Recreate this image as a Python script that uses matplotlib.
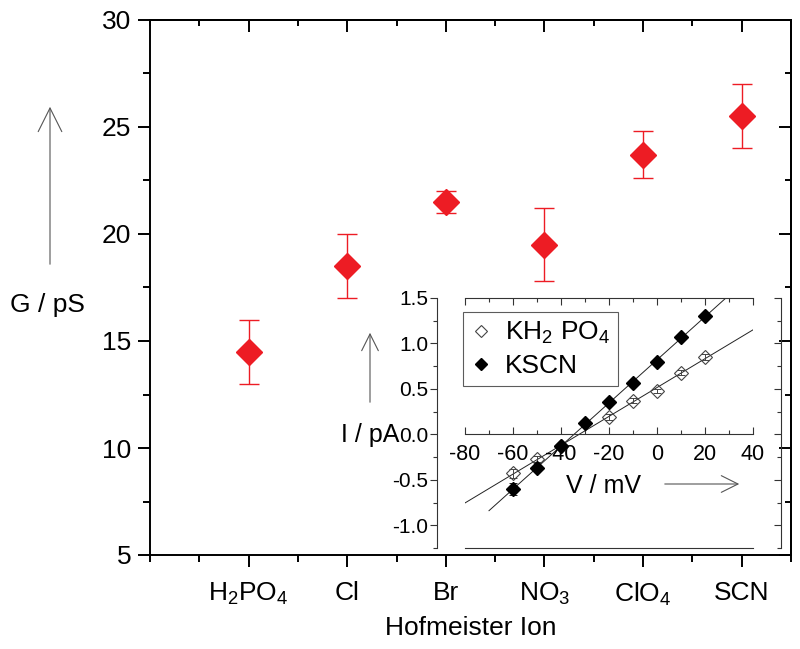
import numpy as np
import matplotlib
matplotlib.use('Agg')
import matplotlib.pyplot as plt
from matplotlib.patches import FancyArrowPatch
from matplotlib.ticker import MultipleLocator, FixedLocator

plt.rcParams['font.family'] = ['Liberation Sans', 'DejaVu Sans']
plt.rcParams['mathtext.fontset'] = 'custom'
plt.rcParams['mathtext.rm'] = 'Liberation Sans'
plt.rcParams['mathtext.it'] = 'Liberation Sans:italic'
plt.rcParams['axes.unicode_minus'] = False

# main panel: single channel conductance per anion
ions = ['H$_2$PO$_4$', 'Cl', 'Br', 'NO$_3$', 'ClO$_4$', 'SCN']
conductance = [14.5, 18.5, 21.5, 19.5, 23.7, 25.5]
conductance_err = [1.5, 1.5, 0.5, 1.7, 1.1, 1.5]

# inset: I-V curves
v_kh2po4 = [-60, -50, -40, -20, -10, 0, 10, 20]
i_kh2po4 = [-0.43, -0.27, -0.13, 0.19, 0.37, 0.48, 0.68, 0.85]
err_kh2po4 = [0.05, 0.03, 0.03, 0.03, 0.03, 0.02, 0.03, 0.03]
v_kscn = [-60, -50, -40, -30, -20, -10, 0, 10, 20]
i_kscn = [-0.60, -0.37, -0.13, 0.12, 0.36, 0.56, 0.80, 1.07, 1.30]
err_kscn = [0.07, 0.03, 0.03, 0.02, 0.02, 0.02, 0.02, 0.02, 0.02]

red = '#ed1c24'
W, H = 800, 649


def fx(px):
    return px / W


def fy(py):
    return 1 - py / H


fig = plt.figure(figsize=(8, 6.49), dpi=100)
ax = fig.add_axes([fx(150), fy(555), (791 - 150) / W, (555 - 20) / H])

x = np.arange(1, len(ions) + 1)
ax.errorbar(x, conductance, yerr=conductance_err, fmt='D', color=red, ms=13,
            capsize=7, elinewidth=1, capthick=1)

ax.set_xlim(0, 6.5)
ax.set_ylim(5, 30)
ax.set_xticks(x)
ax.set_xticklabels(ions)
ax.xaxis.set_minor_locator(MultipleLocator(0.5))
ax.yaxis.set_major_locator(MultipleLocator(5))
ax.yaxis.set_minor_locator(MultipleLocator(2.5))
ax.tick_params(which='both', direction='out', top=False, right=False, width=1.4, labelsize=19)
ax.tick_params(which='major', length=8.5)
ax.tick_params(which='minor', length=5)
ax.tick_params(axis='x', pad=10)
ax.tick_params(axis='y', pad=5)
for s in ax.spines.values():
    s.set_linewidth(1.4)
ax.set_xlabel('Hofmeister Ion', fontsize=19, labelpad=6)

top = ax.secondary_xaxis('top')
top.xaxis.set_major_locator(FixedLocator(x))
top.xaxis.set_minor_locator(MultipleLocator(0.5))
top.tick_params(which='both', direction='in', labeltop=False, width=1.4)
top.tick_params(which='major', length=8.5)
top.tick_params(which='minor', length=4)
top.spines['top'].set_linewidth(1.4)

right = ax.secondary_yaxis('right')
right.yaxis.set_major_locator(MultipleLocator(5))
right.yaxis.set_minor_locator(MultipleLocator(2.5))
right.tick_params(which='both', direction='in', labelright=False, width=1.4)
right.tick_params(which='major', length=8.5)
right.tick_params(which='minor', length=4)
right.spines['right'].set_linewidth(1.4)

fig.text(fx(47), fy(305), 'G / pS', ha='center', va='center', fontsize=19)
fig.add_artist(FancyArrowPatch((fx(50), fy(267)), (fx(50), fy(104)), transform=fig.transFigure,
                               arrowstyle='->,head_length=1.7,head_width=0.85',
                               mutation_scale=10, color='#555555', lw=0.8))

# inset
ins = fig.add_axes([fx(465), fy(548), 288 / W, 250 / H])
ins.set_xlim(-80, 40)
ins.set_ylim(-1.25, 1.5)

p1 = np.polyfit(v_kh2po4, i_kh2po4, 1)
p2 = np.polyfit(v_kscn, i_kscn, 1)
vv1 = np.array([-80, 40])
vv2 = np.array([-70, 40])
ins.plot(vv1, np.polyval(p1, vv1), color='#222222', lw=0.7, zorder=1)
ins.plot(vv2, np.polyval(p2, vv2), color='#222222', lw=0.7, zorder=1)

ins.errorbar(v_kh2po4, i_kh2po4, yerr=err_kh2po4, fmt='none', ecolor='#444444',
             elinewidth=0.7, capsize=3, capthick=0.7, zorder=2)
ins.errorbar(v_kscn, i_kscn, yerr=err_kscn, fmt='none', ecolor='#222222',
             elinewidth=0.7, capsize=3, capthick=0.7, zorder=2)
h1, = ins.plot(v_kh2po4, i_kh2po4, 'D', ms=7, mfc='none', mec='#444444', mew=0.8,
               label='KH$_2$ PO$_4$', zorder=3)
h2, = ins.plot(v_kscn, i_kscn, 'D', ms=7, color='black', label='KSCN', zorder=3)

leg = ins.legend(handles=[h1, h2], loc='upper left', bbox_to_anchor=(-0.007, 0.944),
                 borderaxespad=0, fontsize=19, fancybox=False, edgecolor='#333333',
                 handlelength=0.8, handletextpad=0.5, borderpad=0.3, labelspacing=0.3,
                 markerscale=0.85)
leg.get_frame().set_linewidth(0.8)

ins.spines['bottom'].set_position(('data', 0))
ins.spines['left'].set_position(('outward', 20))
ins.spines['right'].set_visible(False)
for s in ins.spines.values():
    s.set_linewidth(0.8)
    s.set_color('#333333')
ins.axhline(-1.25, color='#333333', lw=0.8, clip_on=False)

ins.xaxis.set_major_locator(MultipleLocator(20))
ins.xaxis.set_minor_locator(MultipleLocator(10))
ins.yaxis.set_major_locator(MultipleLocator(0.5))
ins.yaxis.set_minor_locator(MultipleLocator(0.25))
ins.xaxis.set_ticks_position('both')
ins.tick_params(axis='x', which='both', direction='in', labelsize=15.5, pad=7,
                color='#333333', width=0.8)
ins.tick_params(axis='x', which='major', length=5)
ins.tick_params(axis='x', which='minor', length=3)
ins.yaxis.set_ticks_position('left')
ins.tick_params(axis='y', which='both', direction='out', labelsize=15, pad=1.5,
                color='#333333', width=0.8)
ins.tick_params(axis='y', which='major', length=5)
ins.tick_params(axis='y', which='minor', length=3)

twin = ins.twinx()
twin.set_ylim(ins.get_ylim())
for k in ['top', 'bottom', 'left']:
    twin.spines[k].set_visible(False)
twin.spines['right'].set_position(('outward', 20))
twin.spines['right'].set_linewidth(0.8)
twin.spines['right'].set_color('#333333')
twin.yaxis.set_major_locator(MultipleLocator(0.5))
twin.yaxis.set_minor_locator(MultipleLocator(0.25))
twin.tick_params(which='both', direction='in', labelright=False, color='#333333', width=0.8)
twin.tick_params(which='major', length=5)
twin.tick_params(which='minor', length=3)

fig.text(fx(370), fy(435), 'I / pA', ha='center', va='center', fontsize=18)
fig.add_artist(FancyArrowPatch((fx(370), fy(405)), (fx(370), fy(330)), transform=fig.transFigure,
                               arrowstyle='->,head_length=1.2,head_width=0.6',
                               mutation_scale=10, color='#555555', lw=0.8))
fig.text(fx(603), fy(486), 'V / mV', ha='center', va='center', fontsize=18)
fig.add_artist(FancyArrowPatch((fx(662), fy(484)), (fx(742), fy(484)), transform=fig.transFigure,
                               arrowstyle='->,head_length=1.2,head_width=0.6',
                               mutation_scale=10, color='#555555', lw=0.8))

fig.savefig('out.png', dpi=100)
